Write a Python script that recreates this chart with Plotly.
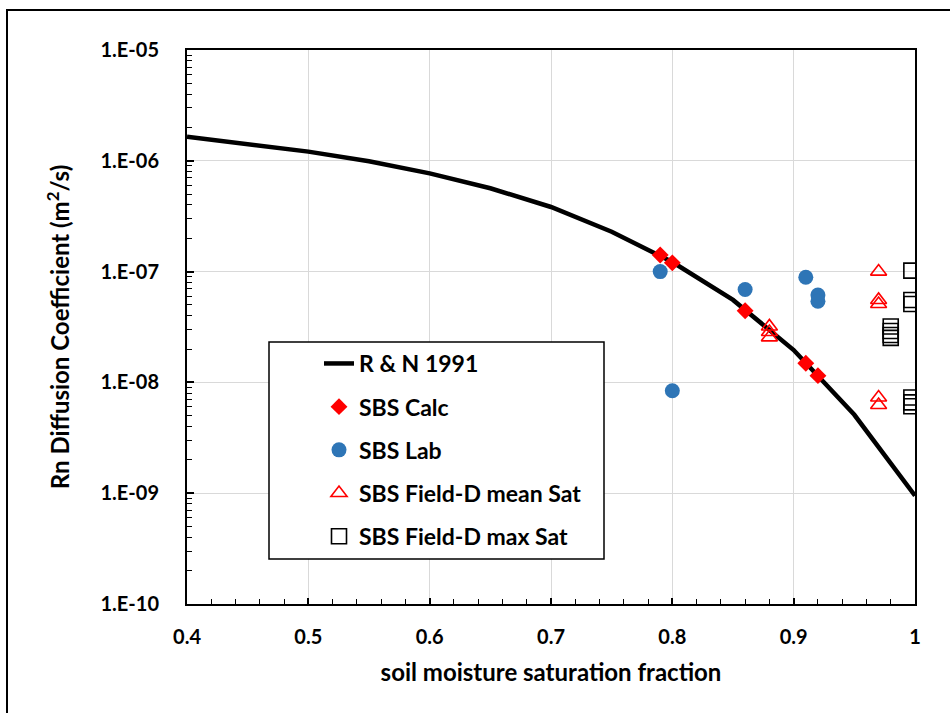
import plotly.graph_objects as go

# ---- data ----
rn_x = [0.40, 0.45, 0.50, 0.55, 0.60, 0.65, 0.70, 0.75, 0.80, 0.85, 0.90, 0.95, 1.00]
rn_y = [1.65e-6, 1.42e-6, 1.21e-6, 9.9e-7, 7.7e-7, 5.65e-7, 3.83e-7, 2.29e-7, 1.22e-7, 5.55e-8, 1.96e-8, 5.1e-9, 9.5e-10]

calc_x = [0.79, 0.80, 0.86, 0.91, 0.92]
calc_y = [1.41e-7, 1.2e-7, 4.43e-8, 1.49e-8, 1.15e-8]

lab_x = [0.79, 0.80, 0.86, 0.91, 0.92, 0.92]
lab_y = [1.0e-7, 8.4e-9, 6.9e-8, 8.9e-8, 6.15e-8, 5.4e-8]

mean_x = [0.88, 0.88, 0.88, 0.97, 0.97, 0.97, 0.97, 0.97]
mean_y = [3.2e-8, 2.85e-8, 2.55e-8, 1.0e-7, 5.55e-8, 5.1e-8, 7.3e-9, 6.25e-9]

max_x = [0.997, 0.997, 0.997, 0.98, 0.98, 0.98, 0.98, 0.997, 0.997, 0.997]
max_y = [1.02e-7, 5.55e-8, 5.1e-8, 3.2e-8, 2.91e-8, 2.68e-8, 2.52e-8, 7.3e-9, 6.6e-9, 6.1e-9]

x_ticks = [0.4, 0.5, 0.6, 0.7, 0.8, 0.9, 1.0]
x_ticktext = ["0.4", "0.5", "0.6", "0.7", "0.8", "0.9", "1"]
y_ticks = [1e-10, 1e-9, 1e-8, 1e-7, 1e-6, 1e-5]
y_ticktext = ["1.E-10", "1.E-09", "1.E-08", "1.E-07", "1.E-06", "1.E-05"]
y_minor = [k * 10.0 ** e for e in range(-10, -5) for k in range(2, 10)]

FONT = "Lato"

fig = go.Figure()
fig.add_trace(go.Scatter(x=rn_x, y=rn_y, mode="lines", name="R &amp; N 1991",
                         line=dict(color="black", width=4.5), legendgroup="a"))
fig.add_trace(go.Scatter(x=calc_x, y=calc_y, mode="markers", name="SBS Calc",
                         marker=dict(symbol="diamond", size=13, color="#FF0000"), legendgroup="b"))
fig.add_trace(go.Scatter(x=lab_x, y=lab_y, mode="markers", name="SBS Lab",
                         marker=dict(symbol="circle", size=15, color="#2E75B6"), legendgroup="c"))
fig.add_trace(go.Scatter(x=mean_x, y=mean_y, mode="markers", name="SBS Field-D mean Sat",
                         marker=dict(symbol="triangle-up-open", size=14, color="#FF0000",
                                     line=dict(width=1.6, color="#FF0000")), legendgroup="d"))
fig.add_trace(go.Scatter(x=max_x, y=max_y, mode="markers", name="SBS Field-D max Sat",
                         marker=dict(symbol="square-open", size=15, color="black",
                                     line=dict(width=1.6, color="black")), legendgroup="e"))

L, R, T, B = 187, 35, 50, 109
W, H = 950, 713
pw, ph = W - L - R, H - T - B


def px2x(px):
    return (px - L) / pw


def px2y(py):
    return (H - B - py) / ph


fig.update_layout(
    width=W, height=H,
    margin=dict(l=L, r=R, t=T, b=B),
    paper_bgcolor="white", plot_bgcolor="white",
    font=dict(family=FONT, size=20, color="black", weight="bold"),
    showlegend=True,
    legend=dict(x=px2x(319), y=px2y(342), xanchor="left", yanchor="top",
                bgcolor="rgba(0,0,0,0)", borderwidth=0,
                font=dict(family=FONT, size=23, color="black", weight="bold"),
                tracegroupgap=10.3, itemwidth=30),
    shapes=[
        dict(type="rect", xref="paper", yref="paper",
             x0=px2x(269), x1=px2x(604), y0=px2y(559), y1=px2y(342),
             fillcolor="white", line=dict(color="black", width=1.5), layer="above"),
        dict(type="rect", xref="paper", yref="paper",
             x0=px2x(7), x1=px2x(960), y0=px2y(725), y1=px2y(10),
             fillcolor="rgba(0,0,0,0)", line=dict(color="black", width=2), layer="above"),
    ],
)

fig.update_xaxes(
    range=[0.4, 1.0], tickvals=x_ticks, ticktext=x_ticktext,
    showgrid=True, gridcolor="#D9D9D9", gridwidth=1,
    showline=True, linecolor="black", linewidth=2, mirror=True,
    ticks="inside", ticklen=6, tickcolor="black", tickwidth=1.5,
    minor=dict(dtick=0.02, ticks="inside", ticklen=5, tickcolor="black", tickwidth=1.2, showgrid=False),
    ticklabelstandoff=14,
    tickfont=dict(family=FONT, size=20, color="black", weight="bold"),
    title=dict(text="soil moisture saturation fraction", standoff=17,
               font=dict(family=FONT, size=24, color="black", weight="bold")),
    zeroline=False,
)
fig.update_yaxes(
    type="log", range=[-10, -5], tickvals=y_ticks, ticktext=y_ticktext,
    showgrid=True, gridcolor="#D9D9D9", gridwidth=1,
    showline=True, linecolor="black", linewidth=2, mirror=True,
    ticks="inside", ticklen=7, tickcolor="black", tickwidth=1.5,
    minor=dict(tickmode="array", tickvals=y_minor, ticks="inside", ticklen=5,
               tickcolor="black", tickwidth=1.2, showgrid=False),
    ticklabelstandoff=22,
    tickfont=dict(family=FONT, size=20, color="black", weight="bold"),
    title=dict(text="Rn Diffusion Coefficient (m<sup>2</sup>/s)", standoff=24,
               font=dict(family=FONT, size=24, color="black", weight="bold")),
    zeroline=False,
)

fig.write_html("out.html")
